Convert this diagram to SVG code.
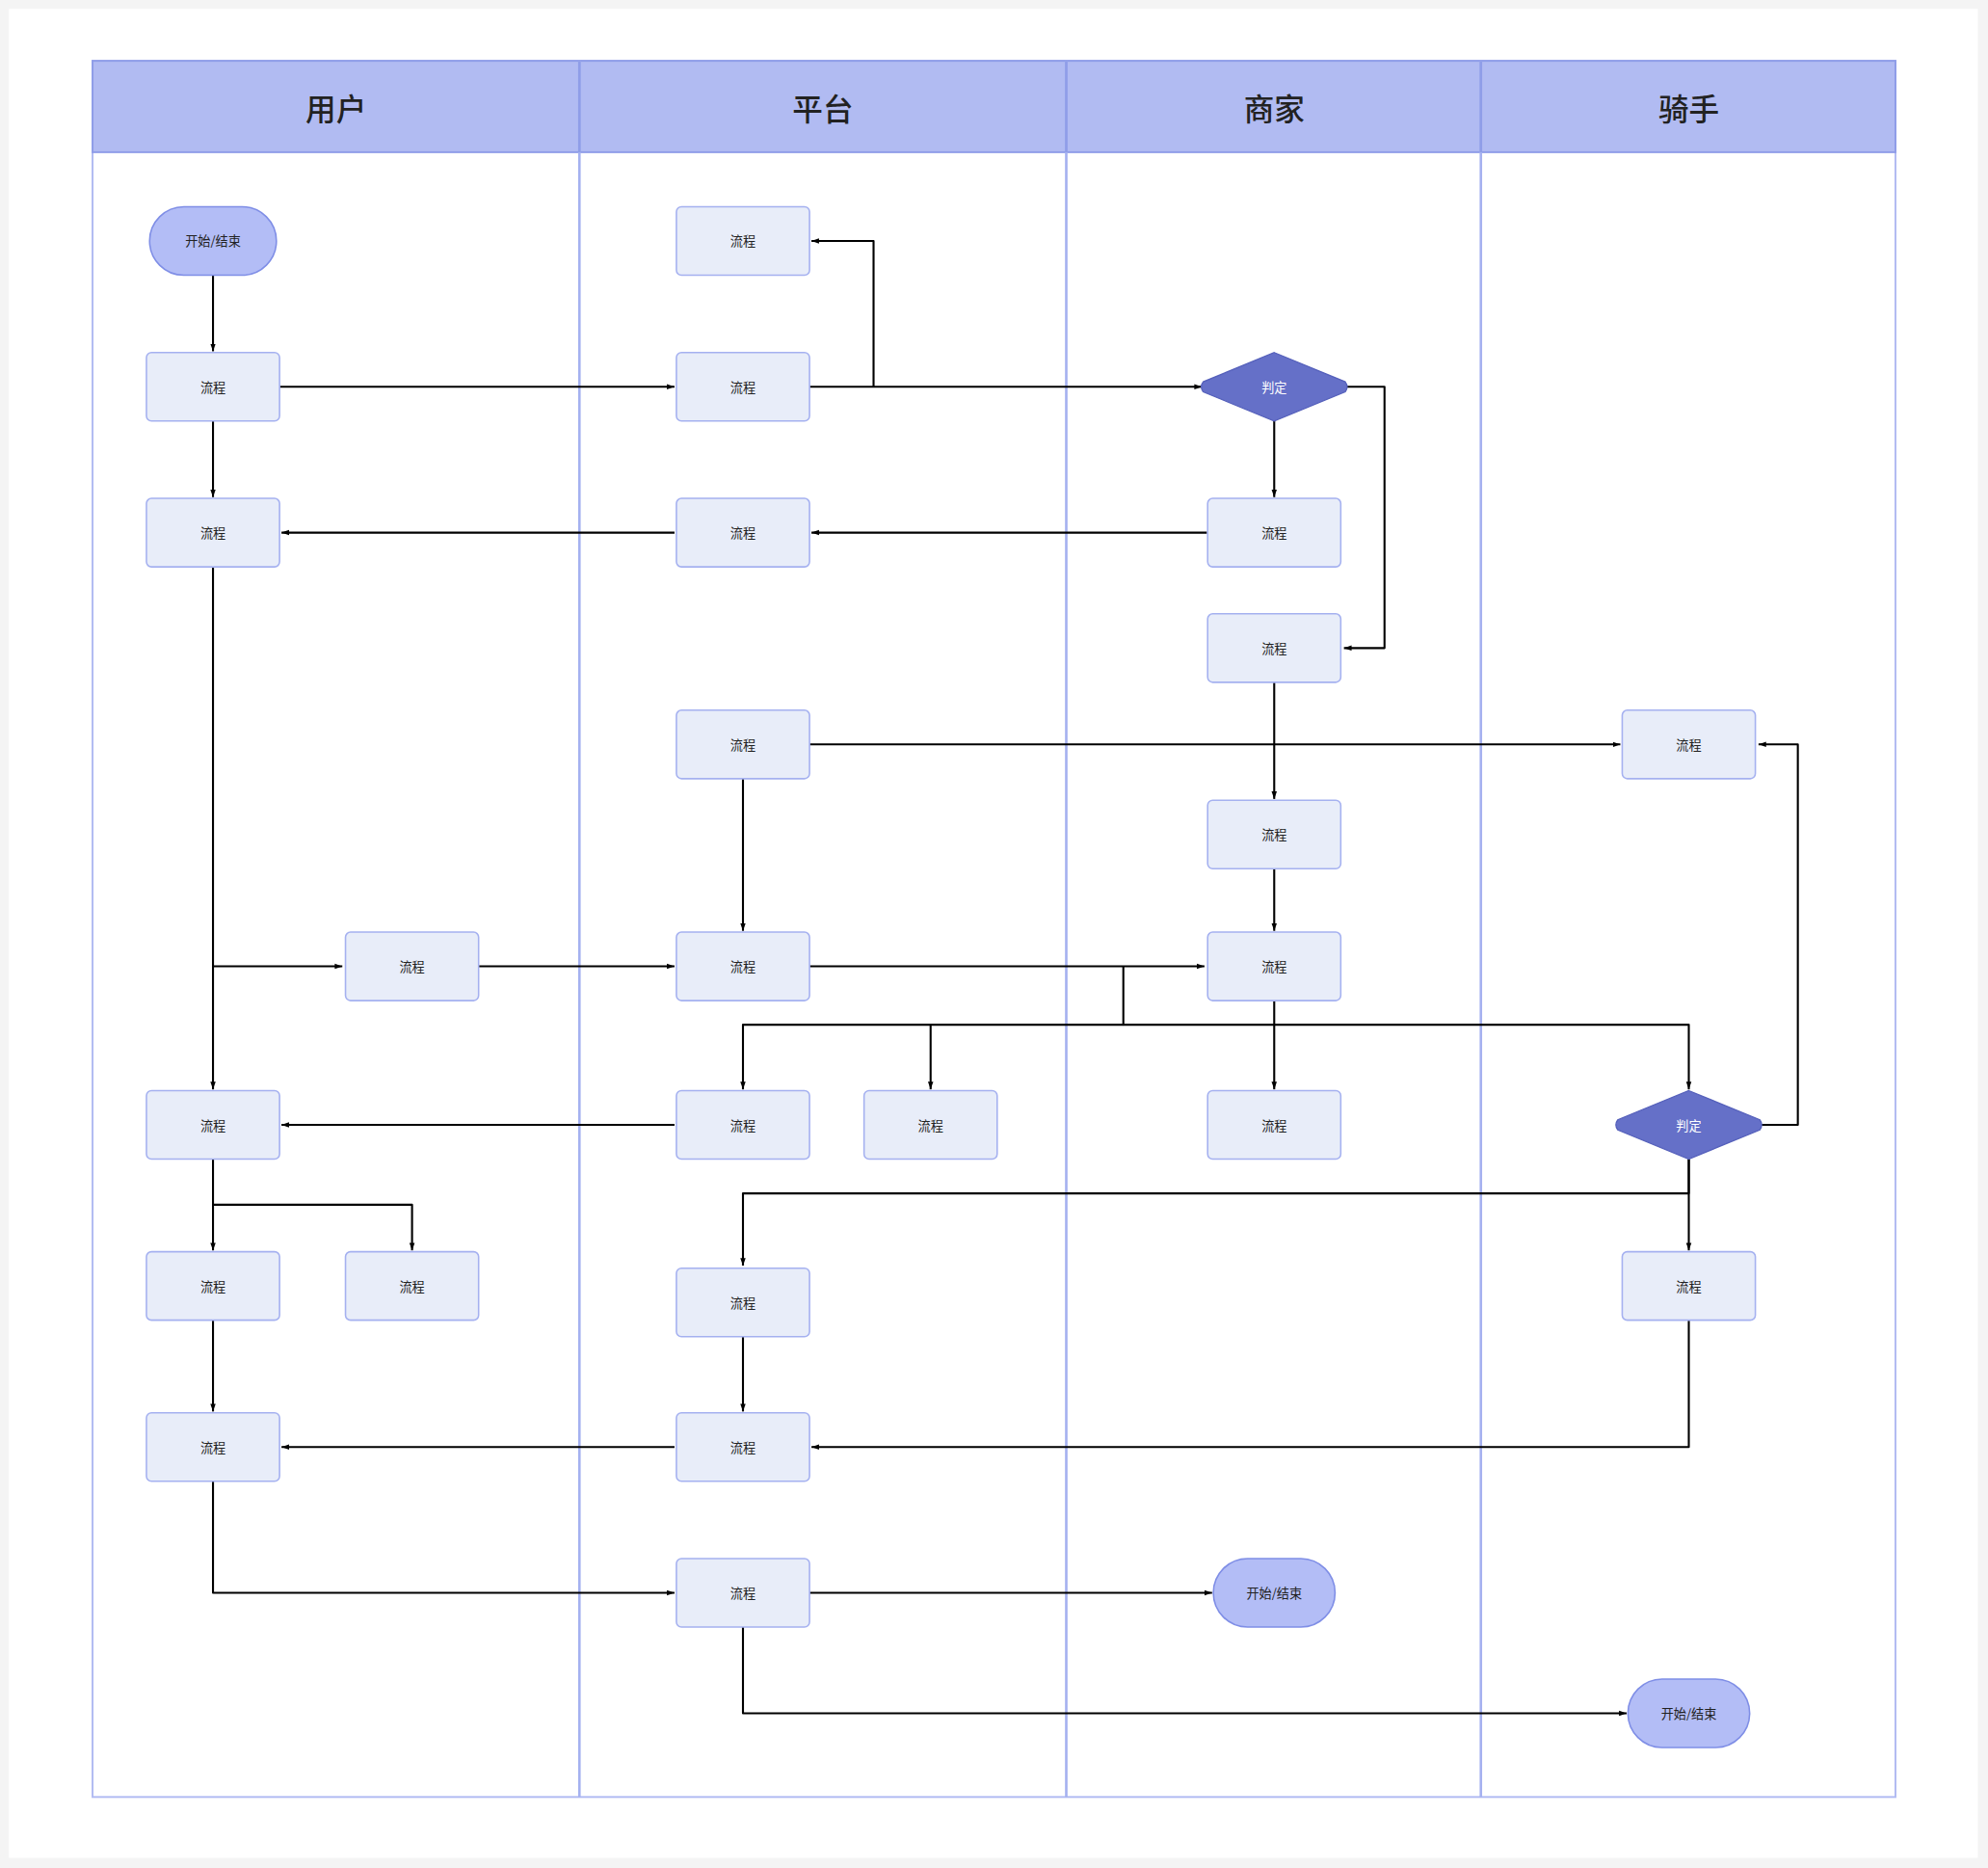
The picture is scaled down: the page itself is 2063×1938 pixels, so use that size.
<svg xmlns="http://www.w3.org/2000/svg" width="2063" height="1938" viewBox="0 0 2063 1938">
<style>
.p{fill:#e8edf9;stroke:#a5b1f0;stroke-width:1.2}
.t{fill:#b3bdf6;stroke:#7f8ee6;stroke-width:1.2}
.d{fill:#6570c8;stroke:#5560bb;stroke-width:1}
.tx{font-family:"Noto Sans CJK SC",sans-serif;font-size:10px;fill:#222;text-anchor:middle;dominant-baseline:central}
.w{fill:#fff}
.h{font-family:"Noto Sans CJK SC",sans-serif;font-size:24px;font-weight:500;fill:#222;text-anchor:middle;dominant-baseline:central}
.c path{fill:none;stroke:#000;stroke-width:1.6;stroke-linejoin:round}
</style>
<defs><marker id="a" viewBox="0 0 10 10" refX="10" refY="5" markerWidth="6" markerHeight="6" orient="auto" markerUnits="userSpaceOnUse"><path d="M0,1.5 L10,5 L0,8.5z" fill="#000"/></marker></defs>
<rect width="2063" height="1938" fill="#f4f4f4"/>
<g transform="scale(1.3157)">
<rect x="7" y="7" width="1553" height="1458" fill="#fff"/>
<g id="lanes">
<rect x="73" y="48" width="1422" height="1369" fill="#fff" stroke="#b1bbf2" stroke-width="1.5"/>
<rect x="73" y="48" width="1422" height="72" fill="#b1bbf2" stroke="#8f9de8" stroke-width="1.5"/>
<path d="M457,48V1417M841,48V1417M1168,48V1417" stroke="#a5b1f0" stroke-width="2"/>
<path d="M457,48V120M841,48V120M1168,48V120" stroke="#8f9de8" stroke-width="2"/>
<text class="h" x="265" y="84">用户</text><text class="h" x="649" y="84">平台</text><text class="h" x="1005" y="84">商家</text><text class="h" x="1332" y="84">骑手</text>
</g>
<g class="c">
<path d="M168,217V277" marker-end="url(#a)"/>
<path d="M220,305H532" marker-end="url(#a)"/>
<path d="M638,305H948" marker-end="url(#a)"/>
<path d="M689,305V190H640" marker-end="url(#a)"/>
<path d="M168,332V392" marker-end="url(#a)"/>
<path d="M532,420H222" marker-end="url(#a)"/>
<path d="M952,420H640" marker-end="url(#a)"/>
<path d="M1005,332V392" marker-end="url(#a)"/>
<path d="M1062,305H1092V511H1060" marker-end="url(#a)"/>
<path d="M1005,538V630" marker-end="url(#a)"/>
<path d="M638,587H1278" marker-end="url(#a)"/>
<path d="M586,614V734" marker-end="url(#a)"/>
<path d="M1005,685V734" marker-end="url(#a)"/>
<path d="M168,447V859" marker-end="url(#a)"/>
<path d="M168,762H270" marker-end="url(#a)"/>
<path d="M377,762H532" marker-end="url(#a)"/>
<path d="M638,762H950" marker-end="url(#a)"/>
<path d="M886,762V808H586V859" marker-end="url(#a)"/>
<path d="M734,808V859" marker-end="url(#a)"/>
<path d="M886,808H1332V859" marker-end="url(#a)"/>
<path d="M1005,789V859" marker-end="url(#a)"/>
<path d="M532,887H222" marker-end="url(#a)"/>
<path d="M1389,887H1418V587H1387" marker-end="url(#a)"/>
<path d="M1332,914V986" marker-end="url(#a)"/>
<path d="M1332,914V941H586V998" marker-end="url(#a)"/>
<path d="M168,914V986" marker-end="url(#a)"/>
<path d="M168,950H325V986" marker-end="url(#a)"/>
<path d="M168,1041V1113" marker-end="url(#a)"/>
<path d="M586,1054V1113" marker-end="url(#a)"/>
<path d="M532,1141H222" marker-end="url(#a)"/>
<path d="M1332,1041V1141H640" marker-end="url(#a)"/>
<path d="M168,1168V1256H532" marker-end="url(#a)"/>
<path d="M638,1256H956" marker-end="url(#a)"/>
<path d="M586,1283V1351H1283" marker-end="url(#a)"/>
</g>
<g id="u1"><rect class="t" x="118" y="163" width="100" height="54" rx="27"/><text class="tx" x="168" y="190">开始/结束</text></g>
<g id="u2"><rect class="p" x="115.5" y="278" width="105" height="54" rx="4"/><text class="tx" x="168" y="305">流程</text></g>
<g id="u3"><rect class="p" x="115.5" y="393" width="105" height="54" rx="4"/><text class="tx" x="168" y="420">流程</text></g>
<g id="u4"><rect class="p" x="272.5" y="735" width="105" height="54" rx="4"/><text class="tx" x="325" y="762">流程</text></g>
<g id="u5"><rect class="p" x="115.5" y="860" width="105" height="54" rx="4"/><text class="tx" x="168" y="887">流程</text></g>
<g id="u6"><rect class="p" x="115.5" y="987" width="105" height="54" rx="4"/><text class="tx" x="168" y="1014">流程</text></g>
<g id="u7"><rect class="p" x="272.5" y="987" width="105" height="54" rx="4"/><text class="tx" x="325" y="1014">流程</text></g>
<g id="u8"><rect class="p" x="115.5" y="1114" width="105" height="54" rx="4"/><text class="tx" x="168" y="1141">流程</text></g>
<g id="p1"><rect class="p" x="533.5" y="163" width="105" height="54" rx="4"/><text class="tx" x="586" y="190">流程</text></g>
<g id="p2"><rect class="p" x="533.5" y="278" width="105" height="54" rx="4"/><text class="tx" x="586" y="305">流程</text></g>
<g id="p3"><rect class="p" x="533.5" y="393" width="105" height="54" rx="4"/><text class="tx" x="586" y="420">流程</text></g>
<g id="p4"><rect class="p" x="533.5" y="560" width="105" height="54" rx="4"/><text class="tx" x="586" y="587">流程</text></g>
<g id="p5"><rect class="p" x="533.5" y="735" width="105" height="54" rx="4"/><text class="tx" x="586" y="762">流程</text></g>
<g id="p6"><rect class="p" x="533.5" y="860" width="105" height="54" rx="4"/><text class="tx" x="586" y="887">流程</text></g>
<g id="p7"><rect class="p" x="681.5" y="860" width="105" height="54" rx="4"/><text class="tx" x="734" y="887">流程</text></g>
<g id="p8"><rect class="p" x="533.5" y="1000" width="105" height="54" rx="4"/><text class="tx" x="586" y="1027">流程</text></g>
<g id="p9"><rect class="p" x="533.5" y="1114" width="105" height="54" rx="4"/><text class="tx" x="586" y="1141">流程</text></g>
<g id="p10"><rect class="p" x="533.5" y="1229" width="105" height="54" rx="4"/><text class="tx" x="586" y="1256">流程</text></g>
<g id="m1"><path class="d" d="M1005,278L1061,301Q1064,305 1061,309L1005,332L949,309Q946,305 949,301Z"/><text class="tx w" x="1005" y="305">判定</text></g>
<g id="m2"><rect class="p" x="952.5" y="393" width="105" height="54" rx="4"/><text class="tx" x="1005" y="420">流程</text></g>
<g id="m3"><rect class="p" x="952.5" y="484" width="105" height="54" rx="4"/><text class="tx" x="1005" y="511">流程</text></g>
<g id="m4"><rect class="p" x="952.5" y="631" width="105" height="54" rx="4"/><text class="tx" x="1005" y="658">流程</text></g>
<g id="m5"><rect class="p" x="952.5" y="735" width="105" height="54" rx="4"/><text class="tx" x="1005" y="762">流程</text></g>
<g id="m6"><rect class="p" x="952.5" y="860" width="105" height="54" rx="4"/><text class="tx" x="1005" y="887">流程</text></g>
<g id="m7"><rect class="t" x="957" y="1229" width="96" height="54" rx="27"/><text class="tx" x="1005" y="1256">开始/结束</text></g>
<g id="r1"><rect class="p" x="1279.5" y="560" width="105" height="54" rx="4"/><text class="tx" x="1332" y="587">流程</text></g>
<g id="r2"><path class="d" d="M1332,860L1388,883Q1391,887 1388,891L1332,914L1276,891Q1273,887 1276,883Z"/><text class="tx w" x="1332" y="887">判定</text></g>
<g id="r3"><rect class="p" x="1279.5" y="987" width="105" height="54" rx="4"/><text class="tx" x="1332" y="1014">流程</text></g>
<g id="r4"><rect class="t" x="1284" y="1324" width="96" height="54" rx="27"/><text class="tx" x="1332" y="1351">开始/结束</text></g>
</g>
</svg>
